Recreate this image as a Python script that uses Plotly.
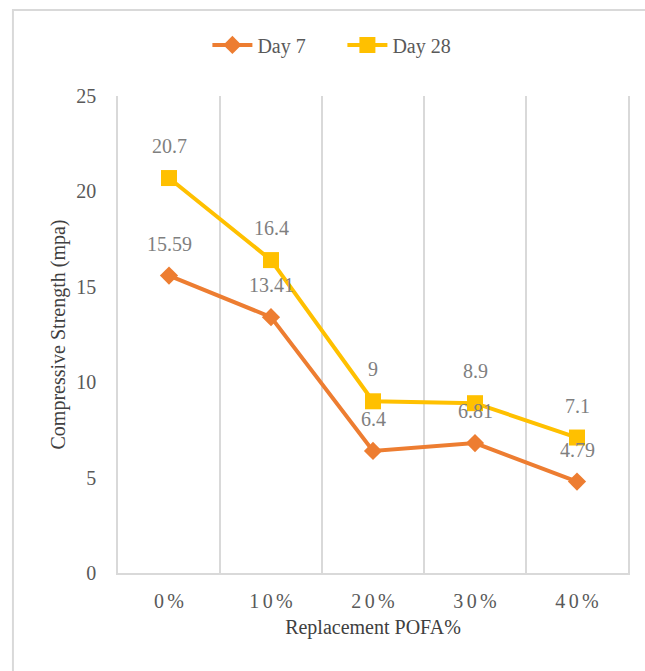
import plotly.graph_objects as go

# Compressive strength by POFA replacement level
categories = ["0%", "10%", "20%", "30%", "40%"]
day7 = [15.59, 13.41, 6.4, 6.81, 4.79]
day28 = [20.7, 16.4, 9, 8.9, 7.1]
y_ticks = [0, 5, 10, 15, 20, 25]

# category labels are drawn with a little extra space between characters
GAP = "\u2006"
spaced = [GAP.join(list(c)) for c in categories]

FONT = "Times New Roman, Liberation Serif, Tinos, DejaVu Serif, serif"
ORANGE = "#ED7D31"
GOLD = "#FFC000"
GRID = "#D9D9D9"

fig = go.Figure()
fig.add_trace(go.Scatter(
    x=categories, y=day7, name="Day 7", mode="lines+markers",
    line=dict(color=ORANGE, width=4),
    marker=dict(symbol="diamond", size=14, color=ORANGE),
))
fig.add_trace(go.Scatter(
    x=categories, y=day28, name="Day 28", mode="lines+markers",
    line=dict(color=GOLD, width=4),
    marker=dict(symbol="square", size=16, color=GOLD),
))

# value labels above each point
annotations = []
for series in (day7, day28):
    for c, v in zip(categories, series):
        annotations.append(dict(
            x=c, y=v, xref="x", yref="y", text=f"{v:g}", showarrow=False,
            yshift=32, font=dict(family=FONT, size=20, color="#7F7F7F"),
        ))

fig.update_layout(
    width=645, height=671,
    margin=dict(l=118, r=17, t=96, b=98),
    paper_bgcolor="white", plot_bgcolor="white",
    font=dict(family=FONT, size=20, color="#595959"),
    showlegend=True,
    legend=dict(orientation="h", x=0.44, xanchor="center", y=1.107, yanchor="middle",
                font=dict(family=FONT, size=20, color="#595959"),
                bgcolor="rgba(0,0,0,0)", itemwidth=40,
                entrywidth=80, entrywidthmode="pixels"),
    annotations=annotations,
    shapes=[dict(type="rect", xref="paper", yref="paper",
                 x0=-0.206, x1=1.6, y0=-1.0, y1=1.1803,
                 line=dict(color=GRID, width=2), fillcolor="rgba(0,0,0,0)", layer="below")],
)

fig.update_xaxes(
    type="category", categoryorder="array", categoryarray=categories,
    tickvals=categories, ticktext=spaced,
    range=[-0.5, 4.5], tickson="boundaries",
    showgrid=True, gridcolor=GRID, gridwidth=1.5,
    showline=True, linecolor=GRID, linewidth=1.5,
    ticks="", ticklabelstandoff=9,
    tickfont=dict(family=FONT, size=20, color="#595959"),
    title=dict(text="Replacement POFA%", standoff=9,
               font=dict(family=FONT, size=20, color="#404040")),
)
fig.update_yaxes(
    range=[0, 25], tickvals=y_ticks,
    showgrid=False, zeroline=False,
    showline=True, mirror=True, linecolor=GRID, linewidth=1.5,
    ticks="", ticklabelstandoff=16,
    tickfont=dict(family=FONT, size=20, color="#595959"),
    title=dict(text="Compressive Strength (mpa)", standoff=5,
               font=dict(family=FONT, size=20, color="#404040")),
)

fig.write_html("out.html")
